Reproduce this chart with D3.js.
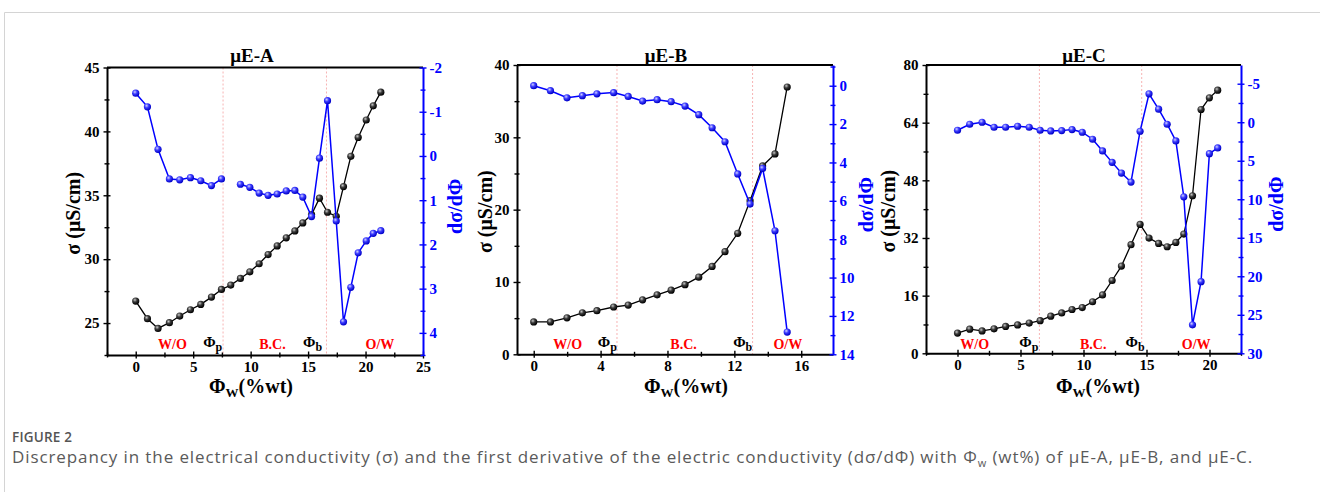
<!DOCTYPE html>
<html>
<head>
<meta charset="utf-8">
<script src="https://cdn.jsdelivr.net/npm/d3@7"></script>
<style>
  body { margin: 0; background: #fff; }
  svg { display: block; }
</style>
</head>
<body>
<svg id="canvas"></svg>
<script>
// water content (wt%), conductivity (uS/cm) and derivative
const xA = [0, 1.02, 1.94, 2.93, 3.83, 4.76, 5.66, 6.59, 7.46, 8.27, 9.11, 9.93, 10.74, 11.52, 12.31, 13.1, 13.85, 14.54, 15.3, 15.99, 16.69, 17.45, 18.08, 18.72, 19.36, 20.06, 20.67, 21.33];
const sigmaA = [26.72, 25.34, 24.58, 25.03, 25.55, 26.04, 26.46, 27.03, 27.63, 27.97, 28.49, 29.01, 29.64, 30.36, 31.04, 31.67, 32.21, 32.84, 33.49, 34.77, 33.67, 33.36, 35.68, 38.05, 39.53, 40.89, 42.0, 43.07];
const derivA = [-1.42, -1.11, -0.15, 0.52, 0.54, 0.49, 0.56, 0.67, 0.52, null, 0.64, 0.71, 0.84, 0.89, 0.86, 0.79, 0.78, 0.93, 1.37, 0.05, -1.25, 1.47, 3.75, 2.97, 2.19, 1.92, 1.75, 1.69];

const xB = [0, 1.0, 1.99, 2.91, 3.78, 4.78, 5.65, 6.51, 7.38, 8.22, 9.05, 9.87, 10.67, 11.44, 12.2, 12.94, 13.69, 14.43, 15.16];
const sigmaB = [4.47, 4.47, 5.05, 5.74, 6.03, 6.54, 6.8, 7.53, 8.22, 8.87, 9.63, 10.67, 12.15, 14.19, 16.73, 21.24, 26.04, 27.7, 36.96];
const derivB = [0, 0.26, 0.63, 0.52, 0.42, 0.36, 0.56, 0.8, 0.73, 0.83, 1.06, 1.51, 2.19, 2.92, 4.6, 6.17, 4.31, 7.56, 12.84];

const xC = [0, 0.97, 1.95, 2.9, 3.82, 4.77, 5.69, 6.56, 7.4, 8.27, 9.09, 9.9, 10.72, 11.51, 12.27, 13.01, 13.77, 14.49, 15.2, 15.96, 16.64, 17.33, 17.96, 18.65, 19.33, 19.99, 20.65];
const sigmaC = [5.6, 6.7, 6.2, 6.8, 7.45, 7.86, 8.4, 9.05, 10.3, 11.2, 12.15, 12.7, 14.3, 16.2, 20.2, 24.2, 30.13, 35.77, 31.98, 30.5, 29.57, 30.78, 33.09, 43.72, 67.65, 70.89, 73.01];
const derivC = [1.04, 0.26, 0, 0.65, 0.65, 0.52, 0.65, 1.04, 1.13, 1.09, 0.95, 1.3, 2.21, 3.73, 5.21, 6.6, 7.77, 1.17, -3.69, -1.69, 0.26, 2.43, 9.68, 26.3, 20.7, 4.08, 3.34];

// phase boundaries (phi_p, phi_b) and region labels
const regionNames = ['W/O', 'Φp', 'B.C.', 'Φb', 'O/W'];
const boundsA = [7.6, 16.6];
const boundsB = [4.98, 13.09];
const boundsC = [6.5, 14.62];
const labelXA = [3.2, 6.7, 11.9, 15.4, 21.25];
const labelXB = [2.03, 4.4, 8.96, 12.5, 15.2];
const labelXC = [1.37, 5.66, 10.77, 14.09, 18.94];

const titles = ['μE-A', 'μE-B', 'μE-C'];

let width = 1320;
let height = 492;
let serif = "'Liberation Serif', 'Times New Roman', serif";
let sans = "'Open Sans', 'Noto Sans', sans-serif";
let blue = '#0000ff';

let canvas = d3.select('#canvas');
canvas.attr('width', width);
canvas.attr('height', height);

// card border
canvas.append('path').
attr('d', 'M4.5,' + height + 'V12.5H' + width).
attr('fill', 'none').
attr('stroke', '#d4d4d4').
attr('stroke-width', 1);

let defs = canvas.append('defs');
let addBall = (id, light, mid, dark) => {
  let g = defs.append('radialGradient').
  attr('id', id).attr('cx', '38%').attr('cy', '34%').attr('r', '64%');
  g.append('stop').attr('offset', '0%').attr('stop-color', light);
  g.append('stop').attr('offset', '45%').attr('stop-color', mid);
  g.append('stop').attr('offset', '100%').attr('stop-color', dark);
};
addBall('ballBlack', '#c8c8c8', '#3a3a3a', '#000');
addBall('ballBlue', '#d0d0ff', '#3c3cff', '#0000c8');

let panels = [
{ x: xA, sigma: sigmaA, deriv: derivA, bounds: boundsA, labelX: labelXA,
  left: 107, right: 423, top: 67.5, bottom: 355,
  xDomain: [-2.5, 25], sDomain: [22.5, 45], dDomain: [-2, 4.5],
  xStep: [5, 2.5], sStep: [5, 2.5], dStep: [1, 0.5],
  titleX: 252, sLabelX: 73, dLabelX: 455, xLabelX: 251 },
{ x: xB, sigma: sigmaB, deriv: derivB, bounds: boundsB, labelX: labelXB,
  left: 517, right: 833, top: 65, bottom: 354.3,
  xDomain: [-1, 17.9], sDomain: [0, 40], dDomain: [-1.08, 14],
  xStep: [4, 2], sStep: [10, 5], dStep: [2, 1],
  titleX: 666, sLabelX: 485, dLabelX: 866, xLabelX: 686 },
{ x: xC, sigma: sigmaC, deriv: derivC, bounds: boundsC, labelX: labelXC,
  left: 926, right: 1241, top: 65, bottom: 353.3,
  xDomain: [-2.5, 22.5], sDomain: [0, 80], dDomain: [-7.43, 30],
  xStep: [5, 2.5], sStep: [16, 8], dStep: [5, 2.5],
  titleX: 1084, sLabelX: 888, dLabelX: 1276, xLabelX: 1098 }];


let ticksFor = (domain, step) => {
  let lo = Math.min(...domain);
  let hi = Math.max(...domain);
  return d3.range(Math.ceil(lo / step - 1e-9), Math.floor(hi / step + 1e-9) + 1).
  map(k => +(k * step).toFixed(6));
};

let drawAxis = (parent, axisFn, scale, steps, color, transform, pad) => {
  let major = ticksFor(scale.domain(), steps[0]);
  let minor = ticksFor(scale.domain(), steps[1]).filter(v => !major.includes(v));
  let g = parent.append('g').attr('transform', transform);
  g.call(axisFn(scale).tickValues(major).tickSize(3.5).tickSizeOuter(0).
  tickPadding(pad).tickFormat(d => String(d)));
  g.append('g').call(axisFn(scale).tickValues(minor).tickSize(2.5).tickSizeOuter(0).tickFormat('')).
  select('.domain').remove();
  g.attr('font-family', serif).attr('font-size', 15).attr('font-weight', 'bold');
  g.selectAll('.domain').attr('stroke', color).attr('stroke-width', 2);
  g.selectAll('.tick line').attr('stroke', color).attr('stroke-width', 1.4).
  each(function () {
    let l = d3.select(this);
    if (l.attr('x2') !== null) l.attr('x1', -l.attr('x2'));
    if (l.attr('y2') !== null) l.attr('y1', -l.attr('y2'));
  });
  g.selectAll('.tick text').attr('fill', color);
  return g;
};

panels.forEach((p, i) => {
  let xScale = d3.scaleLinear().domain(p.xDomain).range([p.left, p.right]);
  let sScale = d3.scaleLinear().domain(p.sDomain).range([p.bottom, p.top]);
  let dScale = d3.scaleLinear().domain(p.dDomain).range([p.top, p.bottom]);
  let g = canvas.append('g');

  // boundaries
  g.selectAll('.bound').
  data(p.bounds).
  enter().
  append('line').
  attr('x1', d => xScale(d)).attr('x2', d => xScale(d)).
  attr('y1', p.top).attr('y2', p.bottom).
  attr('stroke', '#f7b3b3').
  attr('stroke-width', 1).
  attr('stroke-dasharray', '2,2');

  // frame
  g.append('line').
  attr('x1', p.left).attr('x2', p.right).
  attr('y1', p.top).attr('y2', p.top).
  attr('stroke', '#000').attr('stroke-width', 2);

  drawAxis(g, d3.axisLeft, sScale, p.sStep, '#000', 'translate(' + p.left + ',0)', 4);
  drawAxis(g, d3.axisBottom, xScale, p.xStep, '#000', 'translate(0,' + p.bottom + ')', 3);
  drawAxis(g, d3.axisRight, dScale, p.dStep, blue, 'translate(' + p.right + ',0)', 3);

  // region labels
  p.labelX.forEach((lx, k) => {
    let name = regionNames[k];
    let t = g.append('text').
    attr('x', xScale(lx)).
    attr('y', 349).
    attr('text-anchor', 'middle').
    attr('font-family', serif).
    attr('font-weight', 'bold');
    if (name[0] === 'Φ') {
      t.attr('fill', '#000').attr('font-size', 15).attr('y', 347);
      t.append('tspan').text('Φ');
      t.append('tspan').attr('font-size', 12).attr('dy', 4).text(name.slice(1));
    } else {
      t.attr('fill', '#ff0000').attr('font-size', 14).text(name);
    }
  });

  let pts = p.x.map((x, k) => ({ x: x, s: p.sigma[k], d: p.deriv[k] }));

  // sigma series
  g.append('path').
  datum(pts).
  attr('fill', 'none').
  attr('stroke', '#000').
  attr('stroke-width', 1.3).
  attr('d', d3.line().x(d => xScale(d.x)).y(d => sScale(d.s)));

  g.selectAll('.sdot').
  data(pts).
  enter().
  append('circle').
  attr('cx', d => xScale(d.x)).
  attr('cy', d => sScale(d.s)).
  attr('r', 3.6).
  attr('fill', 'url(#ballBlack)');

  // derivative series
  g.append('path').
  datum(pts).
  attr('fill', 'none').
  attr('stroke', blue).
  attr('stroke-width', 1.5).
  attr('d', d3.line().defined(d => d.d !== null).x(d => xScale(d.x)).y(d => dScale(d.d)));

  g.selectAll('.ddot').
  data(pts.filter(d => d.d !== null)).
  enter().
  append('circle').
  attr('cx', d => xScale(d.x)).
  attr('cy', d => dScale(d.d)).
  attr('r', 3.6).
  attr('fill', 'url(#ballBlue)');

  // title and axis titles
  g.append('text').
  attr('x', p.titleX).
  attr('y', 62).
  attr('text-anchor', 'middle').
  attr('font-family', serif).
  attr('font-weight', 'bold').
  attr('font-size', 19).
  text(titles[i]);

  let midY = (p.top + p.bottom) / 2;
  g.append('text').
  attr('transform', 'translate(' + p.sLabelX + ',' + (midY + 2) + ') rotate(-90)').
  attr('text-anchor', 'middle').
  attr('dy', '0.35em').
  attr('font-family', serif).
  attr('font-weight', 'bold').
  attr('font-size', 20).
  text('σ (μS/cm)');

  g.append('text').
  attr('transform', 'translate(' + p.dLabelX + ',' + (midY - 5) + ') rotate(-90)').
  attr('text-anchor', 'middle').
  attr('dy', '0.35em').
  attr('font-family', serif).
  attr('font-weight', 'bold').
  attr('font-size', 20).
  attr('fill', blue).
  text('dσ/dΦ');

  let xl = g.append('text').
  attr('x', p.xLabelX).
  attr('y', 393).
  attr('text-anchor', 'middle').
  attr('font-family', serif).
  attr('font-weight', 'bold').
  attr('font-size', 20);
  xl.append('tspan').text('Φ');
  xl.append('tspan').attr('font-size', 13).attr('dy', 4).text('W');
  xl.append('tspan').attr('dy', -4).text('(%wt)');
});

// caption
canvas.append('text').
attr('x', 12).
attr('y', 442).
attr('font-family', sans).
attr('font-size', 13.5).
attr('font-weight', 600).
attr('letter-spacing', 0.2).
attr('fill', '#555').
text('FIGURE 2');

let cap = canvas.append('text').
attr('x', 12).
attr('y', 463).
attr('font-family', sans).
attr('font-size', 17).
attr('letter-spacing', 0.9).
attr('fill', '#5a5a5a');
cap.append('tspan').text('Discrepancy in the electrical conductivity (σ) and the first derivative of the electric conductivity (dσ/dΦ) with Φ');
cap.append('tspan').attr('font-size', 11).attr('dy', 4).text('w');
cap.append('tspan').attr('dy', -4).text(' (wt%) of μE-A, μE-B, and μE-C.');
</script>
</body>
</html>
